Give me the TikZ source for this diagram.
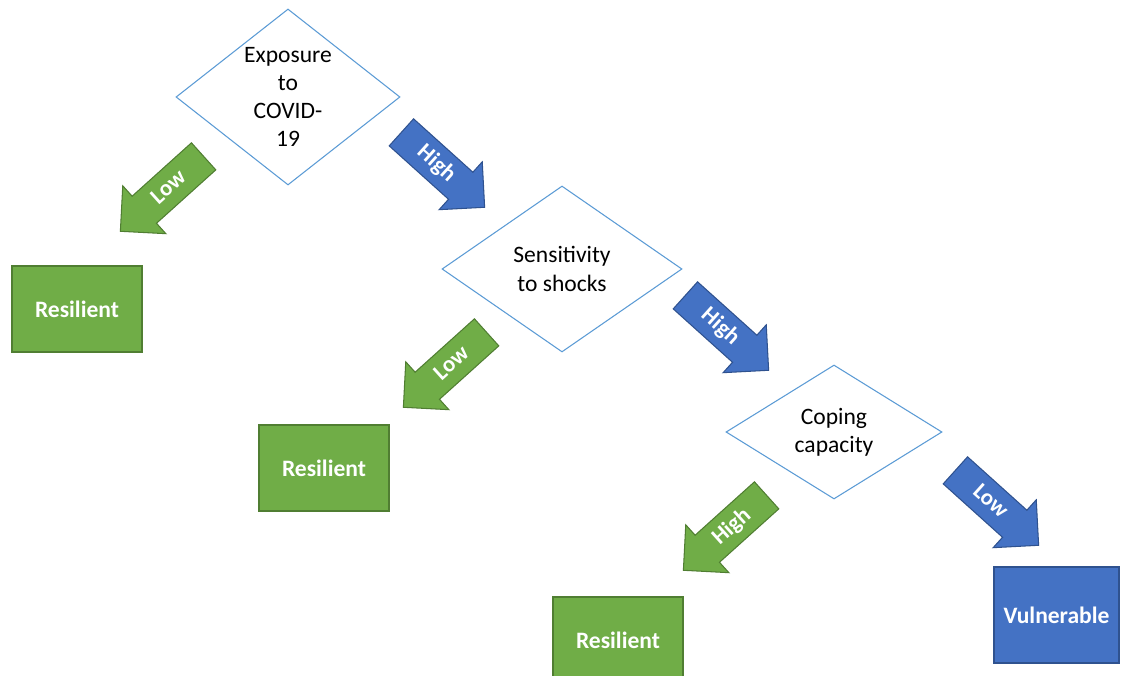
\documentclass[tikz,border=0pt]{standalone}
\usepackage{fontspec}
\setmainfont{Carlito}
\usetikzlibrary{shapes.geometric, shapes.arrows, positioning}
\definecolor{outlineblue}{RGB}{91,155,213}
\definecolor{resgreen}{RGB}{112,173,71}
\definecolor{resgreenedge}{RGB}{80,126,50}
\definecolor{vulblue}{RGB}{68,114,196}
\definecolor{vulblueedge}{RGB}{47,82,143}
\tikzset{
    decision/.style={diamond, draw=outlineblue, line width=0.6pt, fill=white, inner sep=0pt, align=center, font=\fontsize{13.4}{16}\selectfont},
    outcome/.style={rectangle, line width=0.8pt, text=white, font=\fontsize{13.4}{16}\selectfont\bfseries},
    resilient/.style={outcome, fill=resgreen, draw=resgreenedge, minimum width=2.6cm, minimum height=1.72cm},
    vulnerable/.style={outcome, fill=vulblue, draw=vulblueedge, minimum width=2.5cm, minimum height=1.92cm},
    branch/.style={single arrow, single arrow head extend=0.28cm, minimum height=2.24cm, inner xsep=2pt, inner ysep=0.16cm, text height=9pt, text depth=2pt, line width=0.6pt, text=white, font=\fontsize{13}{15}\selectfont\bfseries, anchor=tail},
    greenbranch/.style={branch, fill=resgreen, draw=resgreenedge},
    bluebranch/.style={branch, fill=vulblue, draw=vulblueedge},
    leftdown/.style={shape border rotate=180, rotate=42},
    rightdown/.style={rotate=-42},
}
\begin{document}
\begin{tikzpicture}
    \useasboundingbox (0,0) rectangle (22.52,-13.52);
    % decisions
    \node[decision, aspect=1.27, minimum width=4.48cm, minimum height=3.52cm] (expo) at (5.76,-1.94) {Exposure\\to\\COVID-\\19};
    \node[decision, aspect=1.45, minimum width=4.8cm, minimum height=3.32cm] (sens) at (11.24,-5.38) {Sensitivity\\to shocks};
    \node[decision, aspect=1.61, minimum width=4.32cm, minimum height=2.68cm] (coping) at (16.68,-8.64) {Coping\\capacity};
    % outcomes
    \node[resilient] (res1) at (1.54,-6.18) {Resilient};
    \node[resilient] (res2) at (6.48,-9.36) {Resilient};
    \node[resilient] (res3) at (12.36,-12.8) {Resilient};
    \node[vulnerable] (vuln) at (21.13,-12.3) {Vulnerable};
    % branches
    \node[greenbranch, leftdown] (lowA) at (4.08,-3.12) {Low};
    \node[bluebranch, rightdown] (highA) at (8.02,-2.64) {High};
    \node[greenbranch, leftdown] (lowB) at (9.74,-6.64) {Low};
    \node[bluebranch, rightdown] (highB) at (13.7,-5.9) {High};
    \node[greenbranch, leftdown] (highC) at (15.34,-9.9) {High};
    \node[bluebranch, rightdown] (lowC) at (19.1,-9.4) {Low};
\end{tikzpicture}
\end{document}
